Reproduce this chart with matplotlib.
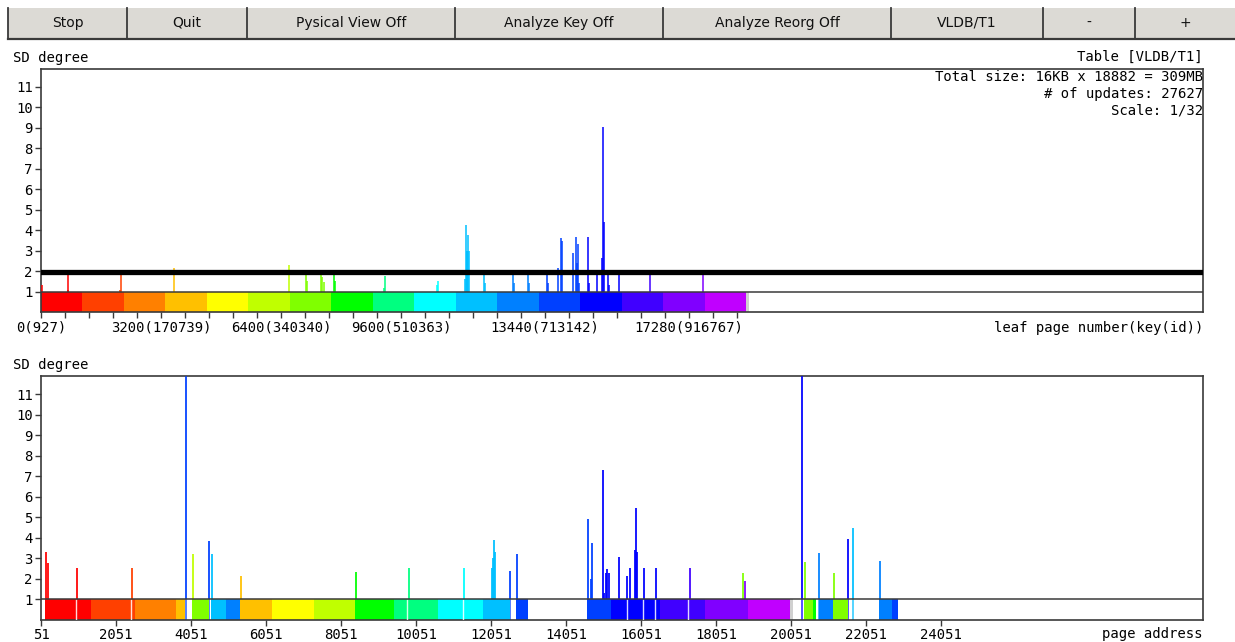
import numpy as np
import matplotlib
matplotlib.use('Agg')
import matplotlib.pyplot as plt
from matplotlib.patches import Rectangle
from matplotlib.lines import Line2D
from matplotlib.ticker import FixedLocator

W, H = 1235, 642

# ---- buttons on top
btn_labels = ['Stop', 'Quit', 'Pysical View Off', 'Analyze Key Off',
              'Analyze Reorg Off', 'VLDB/T1', '-', '+']
btn_edges = [8, 127, 247, 455, 663, 891, 1043, 1135, 1235]

# ---- hue steps used for key ranges
hues = ['#ff0000', '#ff4000', '#ff8000', '#ffc000', '#ffff00', '#c0ff00',
        '#80ff00', '#00ff00', '#00ff80', '#00ffff', '#00c0ff', '#0080ff',
        '#0040ff', '#0000ff', '#4000ff', '#8000ff', '#c000ff']

# ---- top panel: leaf page number (key)
seg_pages = 1106
n_pages = 18882
top_xmax = 30990
top_tick_pos = [0, 3200, 6400, 9600, 13440, 17280]
top_tick_lab = ['0(927)', '3200(170739)', '6400(340340)', '9600(510363)',
                '13440(713142)', '17280(916767)']
minor_step = 640
threshold = 1.95

top_x = [19, 712, 728, 2115, 2134, 3547, 6614, 7068, 7102, 7468,
         7503, 7540, 7814, 7841, 9148, 9174, 10560, 10588, 11305, 11330,
         11350, 11370, 11390, 11410, 11815, 11841, 12588, 12615, 12980, 13007,
         13487, 13514, 13780, 13868, 13903, 14180, 14260, 14287, 14330, 14357,
         14597, 14623, 14829, 14954, 14989, 15015, 15130, 15157, 15415, 16242,
         17648]
top_h = [1.34, 1.9, 1.1, 1.1, 1.9, 2.17, 2.3, 1.9, 1.5, 1.9,
         1.7, 1.45, 1.9, 1.5, 1.15, 1.75, 1.3, 1.53, 1.6, 4.27,
         2.97, 3.0, 3.78, 2.97, 1.9, 1.43, 1.9, 1.43, 1.9, 1.43,
         1.9, 1.43, 2.17, 3.63, 3.49, 2.9, 3.68, 2.4, 3.34, 1.43,
         3.68, 1.43, 1.9, 2.66, 9.03, 4.38, 1.9, 1.3, 1.9, 1.9,
         1.9]

# ---- bottom panel: physical page address
bot_xmin = 51
bot_xmax = 31040
bot_ticks = list(range(51, 24052, 2000))

seg_start = [158, 1377, 2558, 3651, 4078, 4577, 4977, 5358, 6212, 7332,
             8425, 9466, 10631, 11831, 12719, 14620, 15245, 16559, 17760, 18914,
             20408, 20648, 20800, 21181, 22400, 22755]
seg_end = [1377, 2558, 3651, 3891, 4532, 4977, 5358, 6212, 7332, 8425,
           9466, 10631, 11831, 12559, 13047, 15245, 16559, 17760, 18914, 20026,
           20648, 20720, 21181, 21581, 22755, 22899]
seg_col = [0, 1, 2, 3, 6, 10, 11, 3, 4, 5,
           7, 8, 9, 10, 12, 12, 13, 14, 15, 16,
           6, 7, 11, 6, 11, 12]
free_seg = (20026, 20115)
bar_gaps = [976, 2443, 9812, 11298, 15688, 16114, 16426, 17315]

bot_x = [176, 246, 1011, 2486, 3926, 4097, 4540, 4604, 5377, 8452,
         9858, 11333, 12071, 12098, 12133, 12159, 12551, 12738, 14631, 14719,
         14754, 15039, 15074, 15111, 15154, 15200, 15458, 15688, 15751, 15885,
         15920, 15946, 16133, 16453, 17352, 18765, 18826, 20339, 20427, 20808,
         21200, 21582, 21707, 22419]
bot_h = [3.31, 2.79, 2.56, 2.56, 12, 3.2, 3.85, 3.2, 2.14, 2.32,
         2.56, 2.56, 2.56, 3.02, 3.92, 3.31, 2.37, 3.2, 4.91, 2.0,
         3.77, 7.3, 1.33, 2.3, 2.5, 2.3, 3.07, 2.14, 2.56, 3.4,
         5.48, 3.31, 2.56, 2.56, 2.56, 2.3, 1.91, 12, 2.82, 3.26,
         2.3, 3.97, 4.5, 2.86]
bot_c = [0, 0, 0, 1, 12, 5, 12, 10, 3, 7,
         8, 9, 10, 10, 10, 10, 12, 12, 12, 12,
         12, 13, 13, 13, 13, 13, 13, 13, 13, 13,
         13, 13, 13, 13, 14, 6, 15, 13, 6, 11,
         6, 13, 10, 11]

mono = 'DejaVu Sans Mono'
edge = '#3a3a3a'


def fx(x):
    return x / W


def fy(y):
    return 1 - y / H


def style_axes(ax):
    for s in ax.spines.values():
        s.set_color(edge)
        s.set_linewidth(1.2)
    ax.set_ylim(0, 11.88)
    ax.set_yticks(range(1, 12))
    ax.tick_params(axis='both', which='both', direction='out', length=4,
                   width=1, color=edge, labelsize=10, pad=2)
    for lab in ax.get_xticklabels() + ax.get_yticklabels():
        lab.set_family(mono)
    ax.axhline(1, color=edge, lw=1.1, zorder=4)


fig = plt.figure(figsize=(W / 100, H / 100), dpi=100)

# button row
for i, lab in enumerate(btn_labels):
    x0, x1 = btn_edges[i], btn_edges[i + 1]
    fig.patches.append(Rectangle((fx(x0), fy(38)), fx(x1 - x0), 30 / H,
                                 transform=fig.transFigure,
                                 facecolor='#dcdad5', edgecolor='none'))
    fig.lines.append(Line2D([fx(x0), fx(x0)], [fy(38), fy(8)],
                            transform=fig.transFigure, color=edge, lw=1.3))
    fig.text(fx((x0 + x1) / 2), fy(23), lab, ha='center', va='center',
             fontsize=10, family='DejaVu Sans', color='#111111')
fig.lines.append(Line2D([fx(8), 1], [fy(38.5), fy(38.5)],
                        transform=fig.transFigure, color=edge, lw=1.6))

# ---- top panel
ax1 = fig.add_axes([fx(41), fy(312), fx(1162), 243 / H])
for k in range(len(hues)):
    ax1.add_patch(Rectangle((k * seg_pages, 0), seg_pages, 1,
                            facecolor=hues[k], edgecolor='none', zorder=2))
ax1.add_patch(Rectangle((len(hues) * seg_pages, 0),
                        n_pages - len(hues) * seg_pages, 1,
                        facecolor='#d0d0d0', edgecolor='none', zorder=2))
top_cols = [hues[min(int(x // seg_pages), len(hues) - 1)] for x in top_x]
ax1.vlines(top_x, 1, top_h, colors=top_cols, lw=1.1, zorder=3)
ax1.axhline(threshold, color='black', lw=3.8, zorder=5)
ax1.set_xlim(0, top_xmax)
ax1.set_xticks(top_tick_pos)
ax1.set_xticklabels(top_tick_lab)
ax1.xaxis.set_minor_locator(FixedLocator(np.arange(0, n_pages, minor_step)))
style_axes(ax1)

ax1.text(1.0, 1 - 8 / 243, 'Total size: 16KB x 18882 = 309MB',
         transform=ax1.transAxes, ha='right', va='center', fontsize=10, family=mono)
ax1.text(1.0, 1 - 25 / 243, '# of updates: 27627',
         transform=ax1.transAxes, ha='right', va='center', fontsize=10, family=mono)
ax1.text(1.0, 1 - 42 / 243, 'Scale: 1/32',
         transform=ax1.transAxes, ha='right', va='center', fontsize=10, family=mono)

fig.text(fx(13), fy(58), 'SD degree', ha='left', va='center', fontsize=10, family=mono)
fig.text(fx(1203), fy(57), 'Table [VLDB/T1]', ha='right', va='center',
         fontsize=10, family=mono)
fig.text(fx(1203), fy(328), 'leaf page number(key(id))', ha='right', va='center',
         fontsize=10, family=mono)

# ---- bottom panel
ax2 = fig.add_axes([fx(41), fy(620), fx(1162), 244 / H])
for s, e, c in zip(seg_start, seg_end, seg_col):
    ax2.add_patch(Rectangle((s, 0), e - s, 1, facecolor=hues[c],
                            edgecolor='none', zorder=2))
ax2.add_patch(Rectangle((free_seg[0], 0), free_seg[1] - free_seg[0], 1,
                        facecolor='#d0d0d0', edgecolor='none', zorder=2))
ax2.vlines(bar_gaps, 0, 1, colors='white', lw=1.0, alpha=0.85, zorder=3)
ax2.vlines(bot_x, 0, bot_h, colors=[hues[c] for c in bot_c], lw=1.1,
           alpha=0.85, zorder=1)
ax2.vlines(bot_x, 1, bot_h, colors=[hues[c] for c in bot_c], lw=1.1,
           alpha=0.85, zorder=3)
ax2.set_xlim(bot_xmin, bot_xmax)
ax2.set_xticks(bot_ticks)
ax2.set_xticklabels([str(t) for t in bot_ticks])
style_axes(ax2)
ax2.set_ylim(0, 11.9)

fig.text(fx(13), fy(365), 'SD degree', ha='left', va='center', fontsize=10, family=mono)
fig.text(fx(1203), fy(634), 'page address', ha='right', va='center',
         fontsize=10, family=mono)

fig.savefig('out.png', dpi=100)
